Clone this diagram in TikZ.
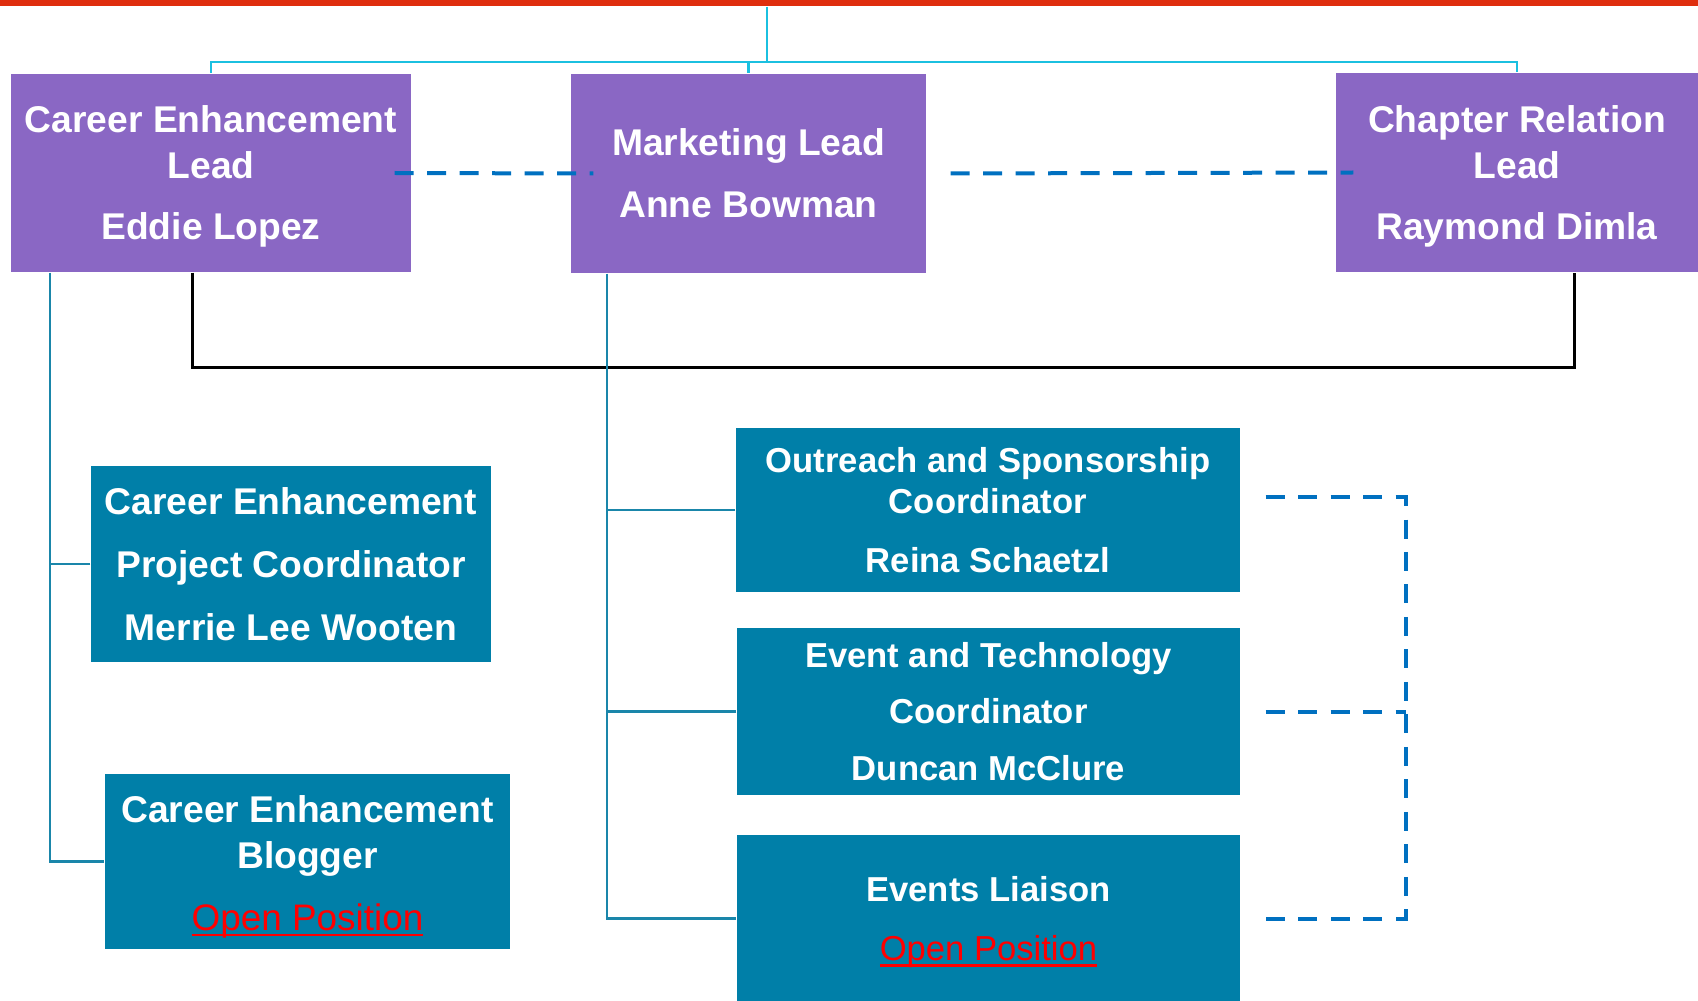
\documentclass[tikz,border=0pt]{standalone}
\usepackage{fontspec}
\setmainfont{Liberation Sans}
\definecolor{leadpurple}{HTML}{8A67C4}
\definecolor{memberteal}{HTML}{007FA8}
\definecolor{lineteal}{HTML}{1A86AA}
\definecolor{topcyan}{HTML}{1BC0E0}
\definecolor{peerblue}{HTML}{0070C0}
\definecolor{barred}{HTML}{DF2E0E}
\definecolor{openred}{HTML}{FF0000}
\newcommand{\openpos}[1]{{\mdseries\fontsize{#1}{13}\selectfont\color{openred}%
	\setbox0\hbox{Open Position}\rlap{\rule[-1.6pt]{\wd0}{0.6pt}}\box0}}

\begin{document}
\begin{tikzpicture}[x=0.1mm,y=-0.1mm,
		lead node/.style={rectangle,fill=leadpurple,text=white,align=center,inner sep=0pt,
			font=\bfseries\fontsize{10.59}{13.09}\selectfont},
		member node/.style={rectangle,fill=memberteal,text=white,align=center,inner sep=0pt,
			font=\bfseries\fontsize{10.59}{13.09}\selectfont},
		coord node/.style={member node,font=\bfseries\fontsize{9.85}{11.67}\selectfont},
		top line/.style={draw=topcyan,line width=0.25mm},
		tree line/.style={draw=lineteal,line width=0.22mm},
		lead line/.style={draw=black,line width=0.28mm},
		peer line/.style={draw=peerblue,line width=0.4mm,dash pattern=on 1.9mm off 1.35mm}]
		\useasboundingbox (0,0) rectangle (1698,1001);

		\node[rectangle,fill=barred,inner sep=0pt,minimum width=169.8mm,minimum height=0.6mm] (bar) at (849,3) {};

		% leads
		\node[lead node,minimum width=40mm,minimum height=19.8mm] (cel) at (211,173)
			{\rule{0pt}{3.4mm}Career Enhancement\\Lead\\[4.3pt]Eddie Lopez};
		\node[lead node,minimum width=35.5mm,minimum height=19.9mm] (mkt) at (748.5,173.5)
			{Marketing Lead\\[4.5pt]Anne Bowman};
		\node[lead node,minimum width=36.2mm,minimum height=19.9mm] (chap) at (1517,172.5)
			{\rule{0pt}{3.4mm}Chapter Relation\\Lead\\[4.3pt]Raymond Dimla};

		% members
		\node[member node,minimum width=40mm,minimum height=19.6mm] (pc) at (291,564)
			{Career Enhancement\\[4.8pt]Project Coordinator\\[4.8pt]Merrie Lee Wooten};
		\node[member node,minimum width=40.5mm,minimum height=17.5mm] (blog) at (307.5,861.5)
			{\rule{0pt}{3.7mm}Career Enhancement\\Blogger\\[4.5pt]\openpos{10.5}};
		\node[coord node,minimum width=50.4mm,minimum height=16.4mm] (outr) at (988,510)
			{Outreach and Sponsorship\\Coordinator\\[5.1pt]Reina Schaetzl};
		\node[coord node,minimum width=50.3mm,minimum height=16.7mm] (evt) at (988.5,711.5)
			{Event and Technology\\[4.5pt]Coordinator\\[4.5pt]Duncan McClure};
		\node[coord node,minimum width=50.3mm,minimum height=16.7mm] (liai) at (988.5,918.5)
			{\rule{0pt}{3.3mm}Events Liaison\\[5.1pt]\openpos{9.85}};

		\coordinate (hub) at (767,62);
		\draw[top line] (bar.south -| hub) -- (hub);
		\draw[top line] (hub) -| (cel.north);
		\draw[top line] (hub) -| (mkt.north);
		\draw[top line] (hub) -| (chap.north);

		\draw[lead line] ([xshift=18.2mm]cel.south west) -- ++(0,-9.5mm) -| ([xshift=23.9mm]chap.south west);

		\draw[tree line] ([xshift=4mm]cel.south west) |- (blog.west);
		\draw[tree line] (pc.west) -| ([xshift=4mm]cel.south west);
		\draw[tree line] ([xshift=3.65mm]mkt.south west) |- (liai.west);
		\draw[tree line] (outr.west) -| ([xshift=3.65mm]mkt.south west);
		\draw[tree line] (evt.west) -| ([xshift=3.65mm]mkt.south west);

		\draw[peer line] ([xshift=-1.7mm]cel.east) -- ([xshift=2.3mm]mkt.west);
		\draw[peer line] ([xshift=2.4mm]mkt.east) -- ([xshift=1.8mm]chap.west);
		\draw[peer line] ([shift={(2.5mm,1.3mm)}]outr.east) -- ++(14mm,0) |- ([xshift=2.5mm]liai.east);
		\draw[peer line] ([xshift=2.5mm]evt.east) -- ++(14mm,0);
\end{tikzpicture}
\end{document}
